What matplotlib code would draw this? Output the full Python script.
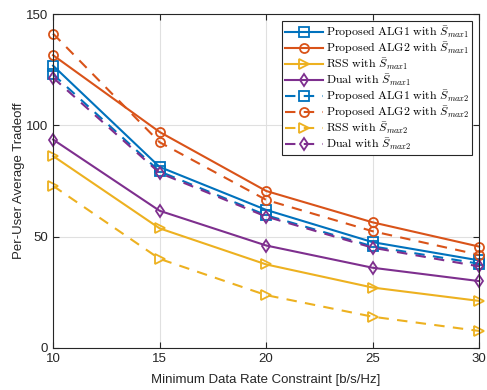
import numpy as np
import matplotlib
matplotlib.use("Agg")
import matplotlib.pyplot as plt

rate = [10, 15, 20, 25, 30]

alg1_s1 = [126.8, 81.3, 62.0, 47.5, 39.3]
alg2_s1 = [131.5, 97.0, 70.5, 56.4, 45.5]
rss_s1 = [86.2, 53.7, 37.5, 27.1, 21.1]
dual_s1 = [93.6, 61.6, 46.0, 36.0, 30.0]
alg1_s2 = [122.9, 79.3, 59.6, 45.6, 37.8]
alg2_s2 = [141.2, 92.4, 66.5, 52.4, 41.8]
rss_s2 = [72.8, 40.0, 23.7, 14.0, 7.6]
dual_s2 = [121.4, 78.6, 59.0, 45.0, 36.6]

blue = "#0072BD"
orange = "#D95319"
yellow = "#EDB120"
purple = "#7E2F8E"

plt.rcParams["font.family"] = ["Liberation Sans", "DejaVu Sans"]
plt.rcParams["mathtext.fontset"] = "cm"


def lab(name, k):
    name = name.replace(" ", r"\ ")
    return r"$\mathrm{%s\ with\ }\bar{S}_{max%d}$" % (name, k)


fig = plt.figure(figsize=(4.87, 3.9), dpi=100)
ax = fig.add_axes([0.109, 0.108, 0.875, 0.856])

series = [
    (alg1_s1, blue, "s", "-", lab("Proposed ALG1", 1)),
    (alg2_s1, orange, "o", "-", lab("Proposed ALG2", 1)),
    (rss_s1, yellow, ">", "-", lab("RSS", 1)),
    (dual_s1, purple, "d", "-", lab("Dual", 1)),
    (alg1_s2, blue, "s", "--", lab("Proposed ALG1", 2)),
    (alg2_s2, orange, "o", "--", lab("Proposed ALG2", 2)),
    (rss_s2, yellow, ">", "--", lab("RSS", 2)),
    (dual_s2, purple, "d", "--", lab("Dual", 2)),
]

for vals, c, m, ls, label in series:
    ax.plot(rate, vals, color=c, marker=m, linestyle=ls, linewidth=1.5,
            markersize=6.5, markerfacecolor="none", markeredgewidth=1.3,
            dashes=(5, 4) if ls == "--" else (None, None), label=label,
            clip_on=False)

ax.set_xlim(10, 30)
ax.set_ylim(0, 150)
ax.set_xticks([10, 15, 20, 25, 30])
ax.set_yticks([0, 50, 100, 150])
ax.grid(True, color="#e0e0e0", linewidth=0.8)
ax.set_axisbelow(True)
ax.tick_params(direction="in", top=True, right=True, labelsize=9.5,
               colors="#262626", length=4)
for s in ax.spines.values():
    s.set_color("#262626")
    s.set_linewidth(0.8)

ax.set_xlabel("Minimum Data Rate Constraint [b/s/Hz]", fontsize=9.5,
              color="#262626", labelpad=7)
ax.set_ylabel("Per-User Average Tradeoff", fontsize=9.5, color="#262626",
              labelpad=1)

leg = ax.legend(loc="upper right", fontsize=8.6, handlelength=3.2,
                labelspacing=0.0, borderpad=0.25, handletextpad=0.2,
                fancybox=False, framealpha=1, borderaxespad=0.6)
leg.get_frame().set_edgecolor("#262626")
leg.get_frame().set_linewidth(0.8)

fig.savefig("out.png", dpi=100)
